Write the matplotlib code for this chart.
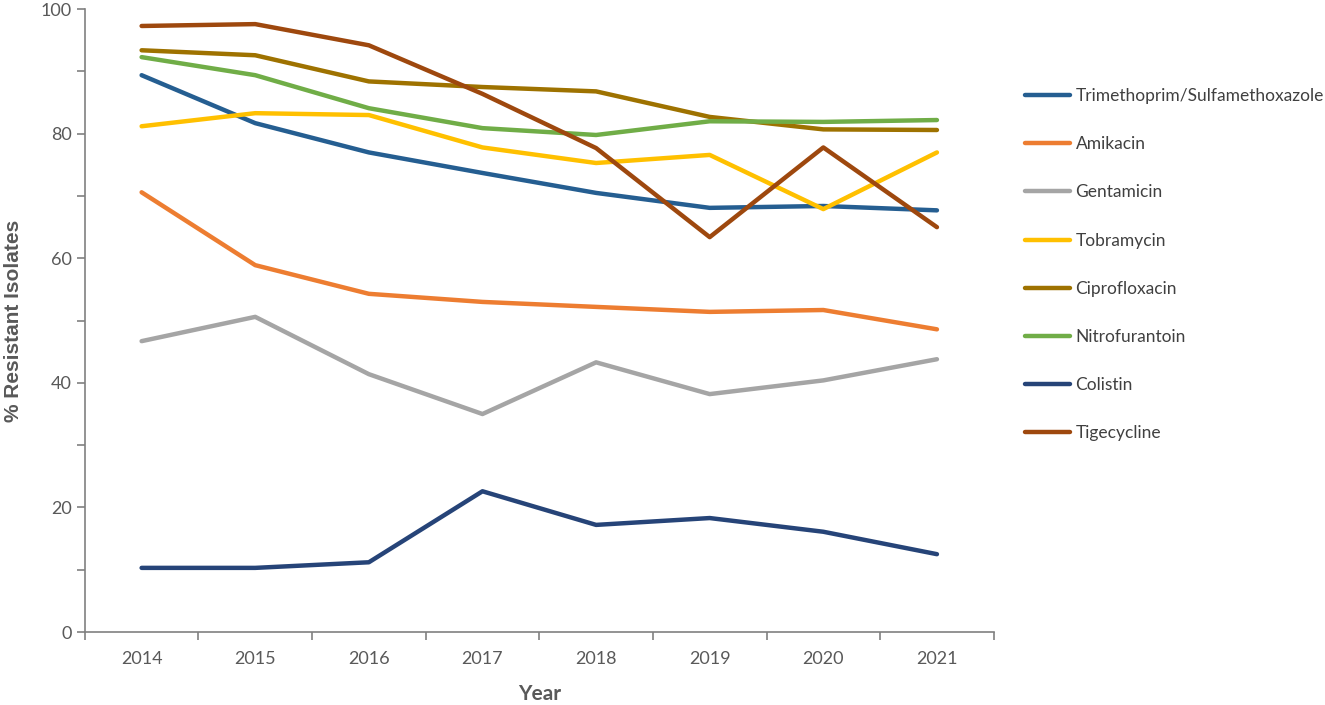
import numpy as np
import matplotlib.pyplot as plt
from matplotlib.ticker import MultipleLocator, FixedLocator, NullFormatter

# data
years = ['2014', '2015', '2016', '2017', '2018', '2019', '2020', '2021']

trimethoprim = [89.4, 81.7, 77.0, 73.7, 70.5, 68.1, 68.4, 67.7]
amikacin = [70.6, 58.9, 54.3, 53.0, 52.2, 51.4, 51.7, 48.6]
gentamicin = [46.7, 50.6, 41.4, 35.0, 43.3, 38.2, 40.4, 43.8]
tobramycin = [81.2, 83.3, 83.0, 77.8, 75.3, 76.6, 67.9, 77.0]
ciprofloxacin = [93.4, 92.6, 88.4, 87.5, 86.8, 82.7, 80.7, 80.6]
nitrofurantoin = [92.3, 89.4, 84.1, 80.9, 79.8, 82.0, 81.9, 82.2]
colistin = [10.3, 10.3, 11.2, 22.6, 17.2, 18.3, 16.1, 12.5]
tigecycline = [97.3, 97.6, 94.2, 86.4, 77.7, 63.4, 77.8, 65.0]

series = [
    ('Trimethoprim/Sulfamethoxazole', trimethoprim, '#255e91'),
    ('Amikacin', amikacin, '#ed7d31'),
    ('Gentamicin', gentamicin, '#a5a5a5'),
    ('Tobramycin', tobramycin, '#ffc000'),
    ('Ciprofloxacin', ciprofloxacin, '#9e7200'),
    ('Nitrofurantoin', nitrofurantoin, '#70ad47'),
    ('Colistin', colistin, '#264478'),
    ('Tigecycline', tigecycline, '#9e480e'),
]

plt.rcParams['font.family'] = ['Lato', 'DejaVu Sans']

fig = plt.figure(figsize=(13.25, 7.05), dpi=100)
ax = fig.add_axes([0.064, 0.1035, 0.686, 0.8835])

x = np.arange(len(years))
for name, vals, col in series:
    ax.plot(x, vals, color=col, lw=3.2, label=name, solid_capstyle='round')

# axes styling (excel-like)
ax.set_xlim(-0.5, len(years) - 0.5)
ax.set_ylim(0, 100)
for s in ['top', 'right']:
    ax.spines[s].set_visible(False)
for s in ['left', 'bottom']:
    ax.spines[s].set_color('#808080')
    ax.spines[s].set_linewidth(1.2)

# x: tick marks between categories, labels at categories
ax.xaxis.set_major_locator(FixedLocator(np.arange(-0.5, len(years), 1.0)))
ax.xaxis.set_major_formatter(NullFormatter())
ax.xaxis.set_minor_locator(FixedLocator(x))
ax.set_xticklabels(years, minor=True)
ax.tick_params(axis='x', which='major', length=6, color='#808080', width=1.2)
ax.tick_params(axis='x', which='minor', length=0, pad=14, labelsize=13, labelcolor='#595959')

# y: labels every 20, ticks every 10
ax.yaxis.set_major_locator(MultipleLocator(20))
ax.yaxis.set_minor_locator(MultipleLocator(10))
ax.tick_params(axis='y', which='both', length=6, color='#808080', width=1.2,
               labelsize=13, labelcolor='#595959')

ax.set_xlabel('Year', fontsize=15, fontweight='bold', color='#595959', labelpad=12)
ax.set_ylabel('% Resistant Isolates', fontsize=15, fontweight='bold', color='#595959',
              family=['Liberation Sans', 'DejaVu Sans'])
ax.yaxis.set_label_coords(-0.068, 0.5)

leg = ax.legend(loc='upper left', bbox_to_anchor=(0.762, 0.897), bbox_transform=fig.transFigure,
                frameon=False, fontsize=12.5, handlelength=2.6, handletextpad=0.3,
                labelspacing=1.85)
for t in leg.get_texts():
    t.set_color('#404040')

plt.savefig('out.png', dpi=100)
plt.close()
